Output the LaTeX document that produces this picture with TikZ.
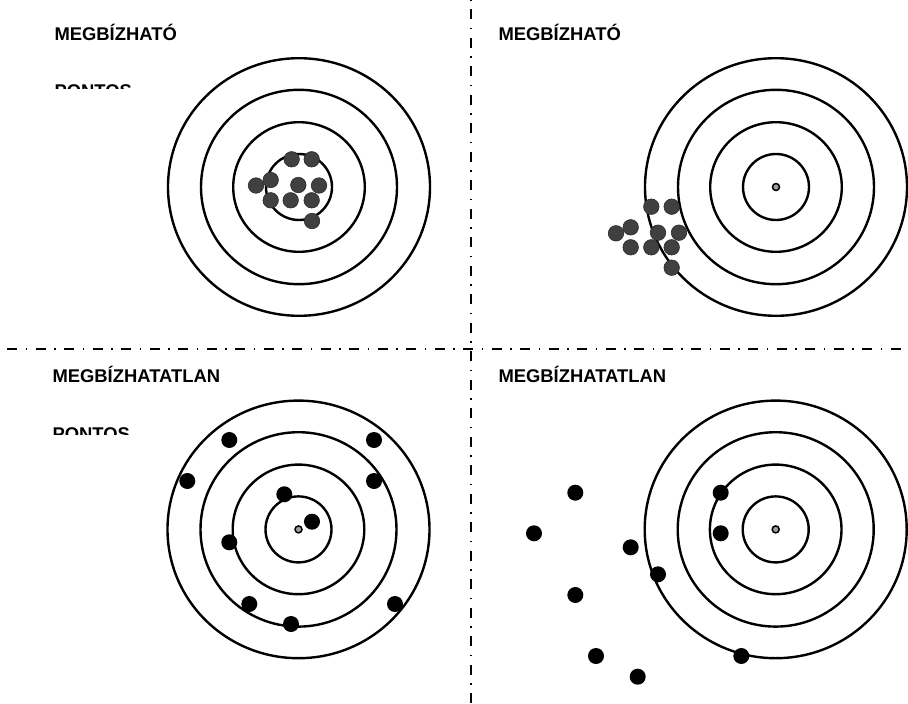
\documentclass[tikz,border=0pt]{standalone}
\usepackage{fontspec}
\setmainfont{Liberation Sans}
\definecolor{dotgray}{HTML}{404040}
\definecolor{dotedge}{HTML}{2A2A2A}
\definecolor{bullgray}{HTML}{A0A0A0}
\begin{document}
\begin{tikzpicture}[x=1pt,y=-1pt,
  ring/.style={line width=2.4pt},
  hit/.style={circle, fill=black, inner sep=0pt, minimum size=16pt},
  grayhit/.style={circle, fill=dotgray, draw=dotedge, line width=0.6pt, inner sep=0pt, minimum size=15.5pt},
  bull/.style={circle, fill=bullgray, draw=black, line width=1.5pt, inner sep=0pt, minimum size=7pt},
  divider/.style={line width=2pt, dash pattern=on 10pt off 8.5pt on 1.5pt off 8.5pt},
  lbl/.style={font=\bfseries\fontsize{18.4}{22}\selectfont, anchor=base west, inner sep=0pt}]
\useasboundingbox (0,0) rectangle (908,704);

% dividers
\coordinate (hl) at (0,349);
\coordinate (hr) at (908,349);
\coordinate (vt) at (471,0);
\coordinate (vb) at (471,704);
\draw[divider, dash phase=21.2pt] (hl) -- (hr);
\draw[divider, dash phase=19.2pt] (vt) -- (vb);

% labels
\node[lbl] (l1) at (54.3,40) {MEGBÍZHATÓ};
\node[lbl] (l2) at (498.3,40) {MEGBÍZHATÓ};
\node[lbl] (l3) at (52.3,382.3) {MEGBÍZHATATLAN};
\node[lbl] (l4) at (498.3,382.3) {MEGBÍZHATATLAN};
\begin{scope}
  \clip (0,0) rectangle (460,88);
  \node[lbl] (p1) at (54.3,97.2) {PONTOS};
\end{scope}
\begin{scope}
  \clip (0,360) rectangle (460,434.5);
  \node[lbl] (p2) at (52.3,440.5) {PONTOS};
\end{scope}

% target centres
\coordinate (c1) at (299,187);
\coordinate (c2) at (776,187);
\coordinate (c3) at (298.5,529.4);
\coordinate (c4) at (775.7,529.4);

\foreach \c in {c1,c2,c3,c4}{
  \draw[ring] (\c) ellipse[x radius=33, y radius=33];
  \draw[ring] (\c) ellipse[x radius=65.8, y radius=64.8];
  \draw[ring] (\c) ellipse[x radius=98, y radius=97.2];
  \draw[ring] (\c) ellipse[x radius=131, y radius=128.8];
}
\node[bull] (b1) at (c1) {};
\node[bull] (b2) at (c2) {};
\node[bull] (b3) at (c3) {};
\node[bull] (b4) at (c4) {};

% top-left: precise and reliable
\node[grayhit] (a1) at (291.7,159.3) {};
\node[grayhit] (a2) at (311.7,159.3) {};
\node[grayhit] (a3) at (270.7,180) {};
\node[grayhit] (a4) at (256,185.5) {};
\node[grayhit] (a5) at (298.3,185) {};
\node[grayhit] (a6) at (319,185.5) {};
\node[grayhit] (a7) at (270.7,200.3) {};
\node[grayhit] (a8) at (290.7,200.3) {};
\node[grayhit] (a9) at (311.7,200.3) {};
\node[grayhit] (a10) at (312,221) {};

% top-right: reliable, not precise
\node[grayhit] (d1) at (651.3,206.7) {};
\node[grayhit] (d2) at (671.7,206.7) {};
\node[grayhit] (d3) at (630.7,227.3) {};
\node[grayhit] (d4) at (616,233.3) {};
\node[grayhit] (d5) at (658,232.7) {};
\node[grayhit] (d6) at (679,232.7) {};
\node[grayhit] (d7) at (630.7,247.3) {};
\node[grayhit] (d8) at (651.3,247.3) {};
\node[grayhit] (d9) at (671.7,247.3) {};
\node[grayhit] (d10) at (671.7,267.7) {};

% bottom-left: precise, unreliable
\node[hit] (e1) at (229.3,440) {};
\node[hit] (e2) at (374,440) {};
\node[hit] (e3) at (187.3,481) {};
\node[hit] (e4) at (374,481) {};
\node[hit] (e5) at (284.3,494.3) {};
\node[hit] (e6) at (312,521.7) {};
\node[hit] (e7) at (229.3,542.3) {};
\node[hit] (e8) at (249.3,604) {};
\node[hit] (e9) at (395,604) {};
\node[hit] (e10) at (291,624) {};

% bottom-right: neither
\node[hit] (f1) at (575.3,492.7) {};
\node[hit] (f2) at (720.7,492.7) {};
\node[hit] (f3) at (534,533.3) {};
\node[hit] (f4) at (720.7,533.3) {};
\node[hit] (f5) at (630.7,547.3) {};
\node[hit] (f6) at (658,574.3) {};
\node[hit] (f7) at (575.3,595) {};
\node[hit] (f8) at (741.3,656) {};
\node[hit] (f9) at (596,656) {};
\node[hit] (f10) at (637.7,676.7) {};
\end{tikzpicture}
\end{document}
